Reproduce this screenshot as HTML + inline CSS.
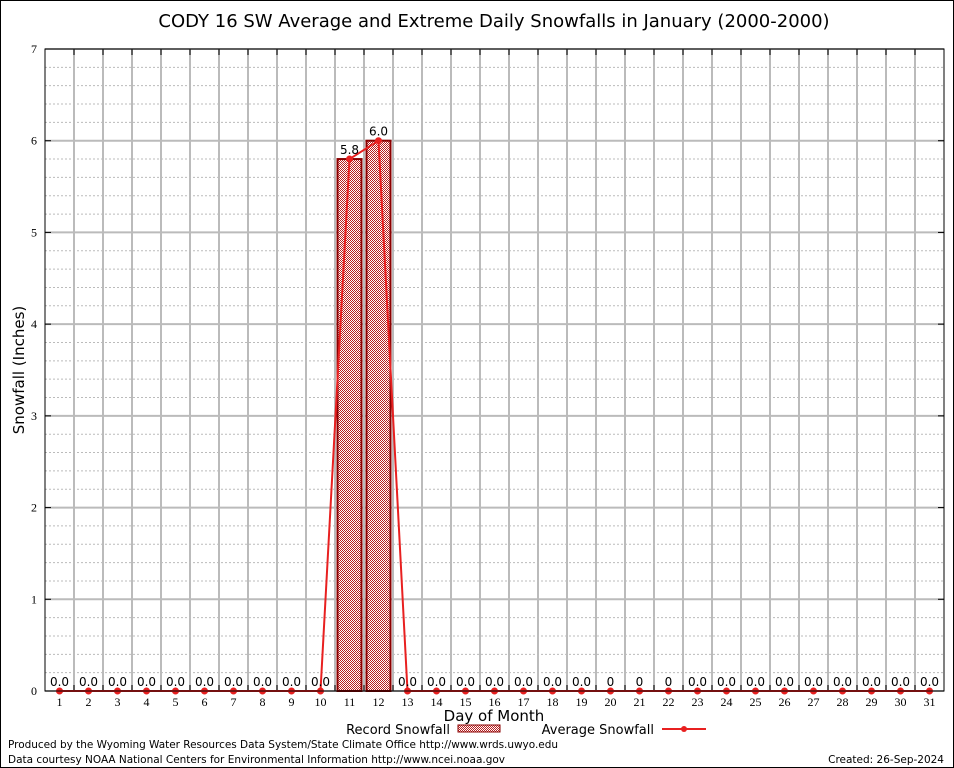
<!DOCTYPE html>
<html><head><meta charset="utf-8"><style>
body{margin:0;background:#fff;font-family:"DejaVu Sans","Liberation Sans",sans-serif}
svg{display:block}
</style></head><body>
<svg id="chart" width="954" height="768">
<defs><pattern id="hatch" width="2" height="2" patternUnits="userSpaceOnUse"><rect width="2" height="2" fill="#fff"/><rect width="1" height="1" fill="#b82020"/><rect x="1" y="1" width="1" height="1" fill="#b82020"/></pattern></defs>
<rect x="0.5" y="0.5" width="953" height="767" fill="#fff" stroke="#000"/>
<text x="494" y="27" text-anchor="middle" font-size="18">CODY 16 SW Average and Extreme Daily Snowfalls in January (2000-2000)</text>
<g id="grid"></g><g id="bars"></g><g id="line"></g><g id="labels"></g>
<rect x="45" y="49" width="899" height="642" fill="none" stroke="#000"/>
<text x="24" y="370" transform="rotate(-90 24 370)" text-anchor="middle" font-size="15">Snowfall (Inches)</text>
<text x="494" y="721" text-anchor="middle" font-size="15">Day of Month</text>
<g>
<text x="450" y="734" text-anchor="end" font-size="13">Record Snowfall</text>
<rect x="458" y="725" width="42" height="7" fill="url(#hatch)" stroke="#8b0000"/>
<text x="654" y="734" text-anchor="end" font-size="13">Average Snowfall</text>
<line x1="662" y1="729" x2="706" y2="729" stroke="#e82020" stroke-width="2"/>
<circle cx="684" cy="729" r="3" fill="#e82020"/>
</g>
<text x="8" y="748" font-size="10.5" textLength="550">Produced by the Wyoming Water Resources Data System/State Climate Office http://www.wrds.uwyo.edu</text>
<text x="8" y="763" font-size="10.5" textLength="497">Data courtesy NOAA National Centers for Environmental Information http://www.ncei.noaa.gov</text>
<text x="944" y="763" text-anchor="end" font-size="10.5">Created:  26-Sep-2024</text>
</svg>
<script>
const days=[1,2,3,4,5,6,7,8,9,10,11,12,13,14,15,16,17,18,19,20,21,22,23,24,25,26,27,28,29,30,31];
const recordSnow=[0,0,0,0,0,0,0,0,0,0,5.8,6.0,0,0,0,0,0,0,0,0,0,0,0,0,0,0,0,0,0,0,0];
const avgSnow=[0,0,0,0,0,0,0,0,0,0,5.8,6.0,0,0,0,0,0,0,0,0,0,0,0,0,0,0,0,0,0,0,0];
const valueLabels=["0.0","0.0","0.0","0.0","0.0","0.0","0.0","0.0","0.0","0.0","5.8","6.0","0.0","0.0","0.0","0.0","0.0","0.0","0.0","0","0","0","0.0","0.0","0.0","0.0","0.0","0.0","0.0","0.0","0.0"];
const yTicks=[0,1,2,3,4,5,6,7];
const NS="http://www.w3.org/2000/svg";
const X0=45,W=899,Y0=691,H=642,YMAX=7;
const bw=W/days.length;
const xc=d=>X0+bw*(d-0.5);
const y=v=>Y0-v/YMAX*H;
function mk(tag,parent,attrs){const e=document.createElementNS(NS,tag);for(const k in attrs)e.setAttribute(k,attrs[k]);document.getElementById(parent).appendChild(e);return e;}
for(let v=0;v<YMAX;v+=0.2){const yy=y(v);const e=mk('line','grid',{x1:X0,x2:X0+W,y1:yy,y2:yy,stroke:'#bbb','stroke-dasharray':'2,2'});

}
yTicks.forEach(t=>{const yy=y(t);const e=mk('line','grid',{x1:X0,x2:X0+W,y1:yy,y2:yy,stroke:'#bbb','stroke-width':2});


const tk=mk('line','grid',{x1:X0,x2:X0+6,y1:yy,y2:yy,stroke:'#000'});


const tk2=mk('line','grid',{x1:X0+W-6,x2:X0+W,y1:yy,y2:yy,stroke:'#000'});


const l=mk('text','grid',{x:X0-8,y:yy+4,'text-anchor':'end','font-size':12,'font-family':'Liberation Serif, serif'});l.textContent=t;

});
for(let i=1;i<days.length;i++){const xx=X0+bw*i;const e=mk('line','grid',{x1:xx,x2:xx,y1:49,y2:Y0,stroke:'#bbb','stroke-width':2});


const t1=mk('line','grid',{x1:xx,x2:xx,y1:Y0-6,y2:Y0,stroke:'#000'});


const t2=mk('line','grid',{x1:xx,x2:xx,y1:49,y2:55,stroke:'#000'});

}
days.forEach((d,i)=>{const l=mk('text','grid',{x:xc(d),y:Y0+15,'text-anchor':'middle','font-size':12,'font-family':'Liberation Serif, serif'});l.textContent=d;


if(recordSnow[i]>0){const b=mk('rect','bars',{x:xc(d)-12,y:y(recordSnow[i]),width:24,height:Y0-y(recordSnow[i]),fill:'url(#hatch)',stroke:'#8b0000','stroke-width':2});

}});
const pts=days.map((d,i)=>xc(d)+','+y(avgSnow[i])).join(' ');
const pl=mk('polyline','line',{points:pts,fill:'none',stroke:'#e82020','stroke-width':2});


days.forEach((d,i)=>{const c=mk('circle','line',{cx:xc(d),cy:y(avgSnow[i]),r:3.5,fill:'#e82020'});


const v=Math.max(avgSnow[i],recordSnow[i]);
const t=mk('text','labels',{x:xc(d),y:y(v)-5,'text-anchor':'middle','font-size':12});t.textContent=valueLabels[i];

});
</script>
</body></html>
